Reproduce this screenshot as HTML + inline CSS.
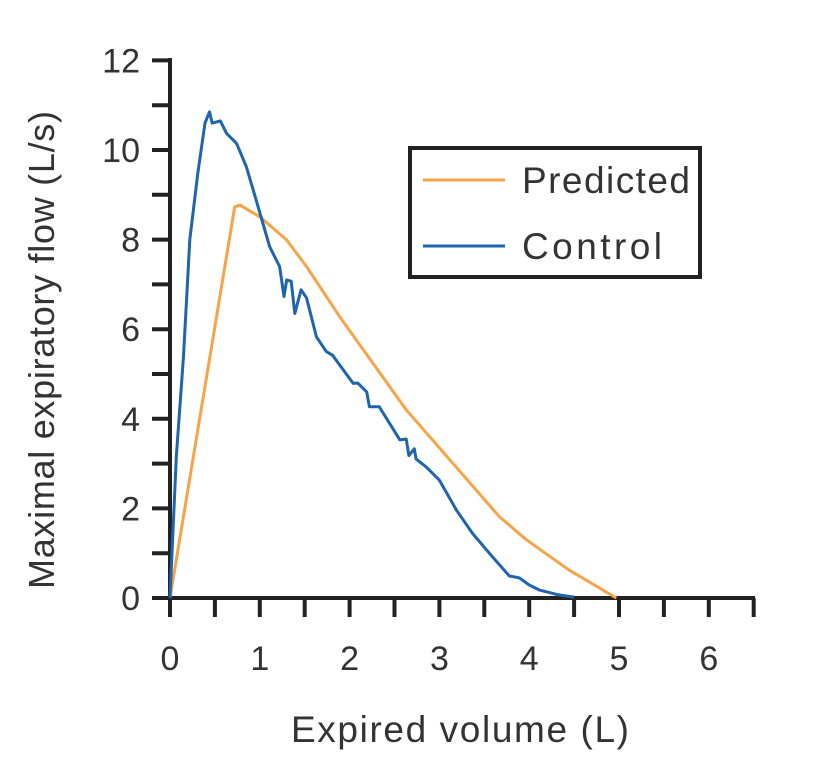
<!DOCTYPE html>
<html><head><meta charset="utf-8"><style>
body{margin:0;background:#fff;}
svg{display:block;font-family:"Liberation Sans",sans-serif;}
</style></head><body>
<svg width="823" height="771" viewBox="0 0 823 771">
<g id="axes"></g>
<g id="series"></g>
<text x="460" y="742" font-size="37" text-anchor="middle" fill="#333" textLength="338">Expired volume (L)</text>
<text transform="translate(54,350) rotate(-90)" font-size="36" text-anchor="middle" fill="#333" textLength="478">Maximal expiratory flow (L/s)</text>
<g>
<rect x="410" y="148" width="290" height="129" fill="#fff" stroke="#222" stroke-width="4"/>
<line x1="423" y1="180" x2="505" y2="180" stroke="#f7a348" stroke-width="3"/>
<text x="522" y="193" font-size="37" fill="#333" textLength="168">Predicted</text>
<line x1="423" y1="246" x2="505" y2="246" stroke="#1e64ae" stroke-width="3"/>
<text x="522" y="259" font-size="37" fill="#333" textLength="140">Control</text>
</g>
</svg>
<script>
const xTicks=[0,1,2,3,4,5,6];
const yTicks=[0,2,4,6,8,10,12];
const predX=[0,0.72,0.78,1.0,1.3,1.52,1.89,2.63,3.67,3.97,4.44,4.97];
const predY=[0,8.73,8.77,8.51,7.99,7.4,6.28,4.2,1.81,1.3,0.63,0];
const ctrlX=[0,0.07,0.15,0.22,0.31,0.39,0.44,0.47,0.56,0.63,0.74,0.85,0.96,1.11,1.22,1.27,1.30,1.35,1.39,1.46,1.52,1.63,1.74,1.81,2.04,2.09,2.19,2.22,2.33,2.56,2.63,2.66,2.72,2.74,2.85,3.0,3.19,3.37,3.59,3.78,3.89,4.0,4.11,4.33,4.5];
const ctrlY=[0,3.15,5.4,8.0,9.48,10.6,10.85,10.6,10.65,10.37,10.15,9.63,8.88,7.84,7.4,6.73,7.1,7.07,6.35,6.88,6.7,5.83,5.5,5.42,4.79,4.8,4.6,4.27,4.27,3.53,3.55,3.18,3.33,3.1,2.93,2.63,1.96,1.44,0.92,0.49,0.45,0.29,0.18,0.07,0.02];
const X=v=>170+v*89.8, Y=v=>598-v*44.8;
const NS="http://www.w3.org/2000/svg";
const ax=document.getElementById('axes'), se=document.getElementById('series');
function mk(tag,attrs,parent){const e=document.createElementNS(NS,tag);for(const k in attrs)e.setAttribute(k,attrs[k]);parent.appendChild(e);return e;}
let e=mk('line',{x1:170,y1:58,x2:170,y2:600,stroke:'#222','stroke-width':4},ax);


e=mk('line',{x1:152,y1:598,x2:755,y2:598,stroke:'#222','stroke-width':4},ax);


for(let v=0;v<=12;v++){e=mk('line',{x1:152,y1:Y(v),x2:170,y2:Y(v),stroke:'#222','stroke-width':4},ax);

}
for(let v=0;v<=6.5;v+=0.5){e=mk('line',{x1:X(v),y1:598,x2:X(v),y2:617,stroke:'#222','stroke-width':4},ax);

}
yTicks.forEach(v=>{e=mk('text',{x:140,y:Y(v)+12,'font-size':34,'text-anchor':'end',fill:'#333'},ax);e.textContent=v;

});
xTicks.forEach(v=>{e=mk('text',{x:X(v),y:670,'font-size':34,'text-anchor':'middle',fill:'#333'},ax);e.textContent=v;

});
function path(xs,ys){return xs.map((x,i)=>(i?'L':'M')+X(x).toFixed(1)+','+Y(ys[i]).toFixed(1)).join('');}
e=mk('path',{d:path(predX,predY),fill:'none',stroke:'#f7a348','stroke-width':3,'stroke-linejoin':'round'},se);


e=mk('path',{d:path(ctrlX,ctrlY),fill:'none',stroke:'#1e64ae','stroke-width':3,'stroke-linejoin':'round'},se);


</script>
</body></html>
